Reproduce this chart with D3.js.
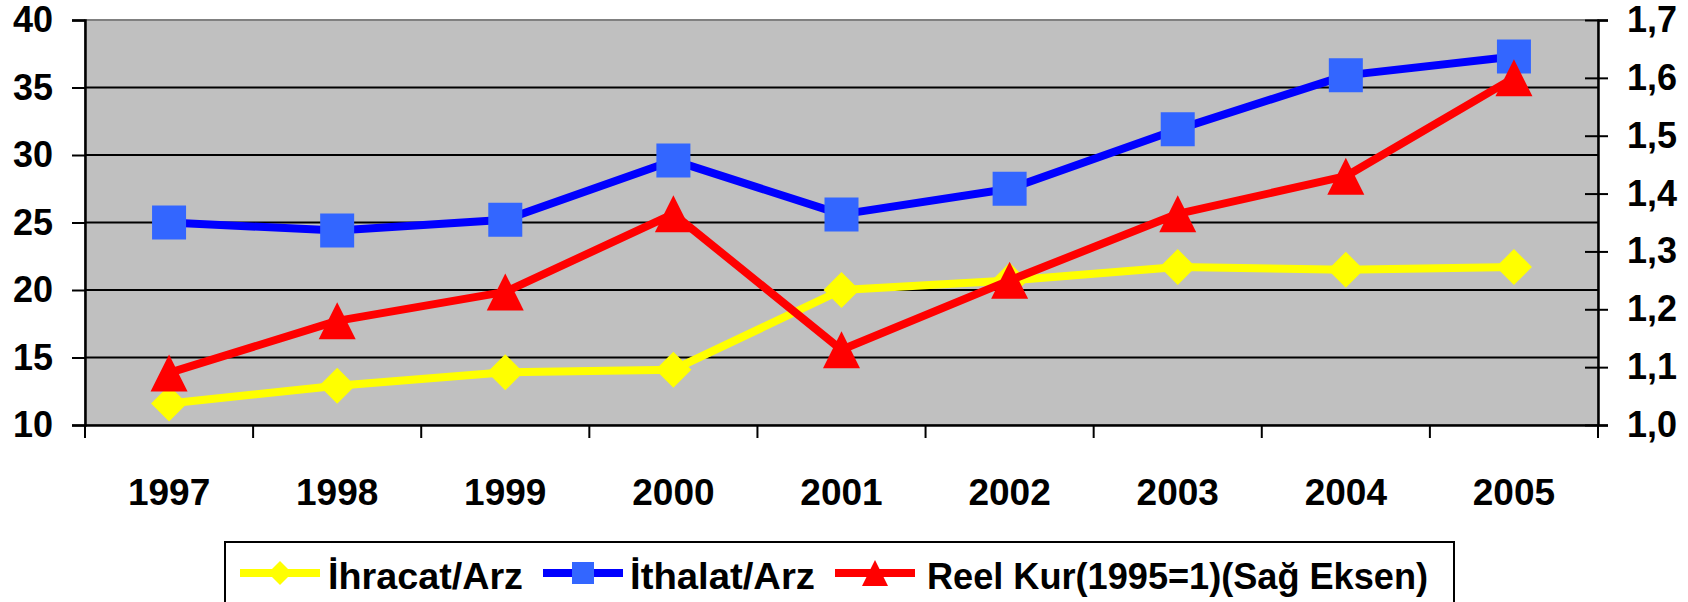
<!DOCTYPE html>
<html>
<head>
<meta charset="utf-8">
<script src="https://cdn.jsdelivr.net/npm/d3@7"></script>
<style>
  body { margin: 0; background: #fff; }
  svg { display: block; }
</style>
</head>
<body>
<div id="chart"></div>
<script>
/* Data */
var years = ["1997", "1998", "1999", "2000", "2001", "2002", "2003", "2004", "2005"];
var ihracatArz = [11.6, 12.9, 13.9, 14.1, 20.0, 20.7, 21.7, 21.5, 21.7];
var ithalatArz = [25.0, 24.4, 25.2, 29.6, 25.6, 27.5, 31.9, 35.9, 37.3];
var reelKur = [1.09, 1.18, 1.23, 1.365, 1.13, 1.25, 1.365, 1.43, 1.60];
var leftTicks = [10, 15, 20, 25, 30, 35, 40];
var rightTicks = [1.0, 1.1, 1.2, 1.3, 1.4, 1.5, 1.6, 1.7];
var seriesNames = ["İhracat/Arz", "İthalat/Arz", "Reel Kur(1995=1)(Sağ Eksen)"];

/* Overall SVG Container */
var width = 1688, height = 602;
var plot = { left: 85, right: 1598, top: 20, bottom: 425 };
var fontFamily = "'Liberation Sans', Arial, Helvetica, sans-serif";

var svg = d3.select("#chart")
    .append("svg")
    .attr("width", width)
    .attr("height", height);

/* Scales */
var x = d3.scaleBand()
    .domain(years)
    .range([plot.left, plot.right])
    .padding(0);

var yLeft = d3.scaleLinear()
    .domain([10, 40])
    .range([plot.bottom, plot.top]);

var yRight = d3.scaleLinear()
    .domain([1.0, 1.7])
    .range([plot.bottom, plot.top]);

var commaFormat = d3.formatLocale({ decimal: ",", thousands: ".", grouping: [3], currency: ["", ""] }).format(".1f");

/* Plot area background */
svg.append("rect")
    .attr("x", plot.left)
    .attr("y", plot.top)
    .attr("width", plot.right - plot.left)
    .attr("height", plot.bottom - plot.top)
    .attr("fill", "#c0c0c0")
    .attr("stroke", "#808080")
    .attr("stroke-width", 2);

/* Gridlines (left axis) */
svg.append("g")
    .selectAll("line")
    .data(leftTicks.filter(function(d) { return d > 10 && d < 40; }))
    .enter().append("line")
    .attr("x1", plot.left)
    .attr("x2", plot.right)
    .attr("y1", function(d) { return yLeft(d); })
    .attr("y2", function(d) { return yLeft(d); })
    .attr("stroke", "#000")
    .attr("stroke-width", 2);

/* Left axis */
var leftAxis = svg.append("g")
    .attr("transform", "translate(" + plot.left + ",0)")
    .call(d3.axisLeft(yLeft).tickValues(leftTicks).tickSize(13).tickPadding(19).tickFormat(d3.format("d")));
leftAxis.select(".domain").attr("stroke", "#000").attr("stroke-width", 2.5);
leftAxis.selectAll(".tick line").attr("stroke", "#000").attr("stroke-width", 2);
leftAxis.selectAll("text")
    .attr("font-family", fontFamily)
    .attr("font-size", 36)
    .attr("font-weight", "bold")
    .attr("fill", "#000");

/* Right axis (ticks cross the axis line) */
var rightAxis = svg.append("g")
    .attr("transform", "translate(" + plot.right + ",0)")
    .call(d3.axisRight(yRight).tickValues(rightTicks).tickSize(10).tickPadding(19).tickFormat(commaFormat));
rightAxis.select(".domain").attr("stroke", "#000").attr("stroke-width", 2.5);
rightAxis.selectAll(".tick line").attr("x1", -13).attr("stroke", "#000").attr("stroke-width", 2);
rightAxis.selectAll("text")
    .attr("font-family", fontFamily)
    .attr("font-size", 36)
    .attr("font-weight", "bold")
    .attr("fill", "#000");

/* Bottom axis: ticks between categories */
var bottomAxis = svg.append("g")
    .attr("transform", "translate(0," + plot.bottom + ")")
    .call(d3.axisBottom(x).tickSize(0).tickPadding(54));
bottomAxis.select(".domain").attr("stroke", "#000").attr("stroke-width", 2.5);
bottomAxis.selectAll("text")
    .attr("font-family", fontFamily)
    .attr("font-size", 37)
    .attr("font-weight", "bold")
    .attr("fill", "#000");

bottomAxis.append("g")
    .selectAll("line")
    .data(d3.range(years.length + 1))
    .enter().append("line")
    .attr("x1", function(i) { return plot.left + i * x.bandwidth(); })
    .attr("x2", function(i) { return plot.left + i * x.bandwidth(); })
    .attr("y1", 0)
    .attr("y2", 13)
    .attr("stroke", "#000")
    .attr("stroke-width", 2);

/* Series */
var series = [
    { name: seriesNames[0], values: ihracatArz, scale: yLeft, line: "#ffff00", fill: "#ffff00", shape: "diamond" },
    { name: seriesNames[1], values: ithalatArz, scale: yLeft, line: "#0000ff", fill: "#3366ff", shape: "square" },
    { name: seriesNames[2], values: reelKur, scale: yRight, line: "#ff0000", fill: "#ff0000", shape: "triangle" }
];

function markerPath(shape, s) {
    if (shape === "diamond") return "M0," + (-s / 2) + "L" + (s / 2) + ",0L0," + (s / 2) + "L" + (-s / 2) + ",0Z";
    if (shape === "square") return "M" + (-s / 2) + "," + (-s / 2) + "h" + s + "v" + s + "h" + (-s) + "Z";
    return "M0," + (-s / 2) + "L" + (s / 2) + "," + (s / 2) + "L" + (-s / 2) + "," + (s / 2) + "Z";
}

var markerSize = { diamond: 36, square: 34, triangle: 37 };

series.forEach(function(sr) {
    var line = d3.line()
        .x(function(d, i) { return x(years[i]) + x.bandwidth() / 2; })
        .y(function(d) { return sr.scale(d); });

    svg.append("path")
        .datum(sr.values)
        .attr("d", line)
        .attr("fill", "none")
        .attr("stroke", sr.line)
        .attr("stroke-width", 8)
        .attr("stroke-linejoin", "round");

    svg.append("g")
        .selectAll("path")
        .data(sr.values)
        .enter().append("path")
        .attr("transform", function(d, i) { return "translate(" + (x(years[i]) + x.bandwidth() / 2) + "," + sr.scale(d) + ")"; })
        .attr("d", markerPath(sr.shape, markerSize[sr.shape]))
        .attr("fill", sr.fill);
});

/* Legend */
var legend = svg.append("g");

legend.append("rect")
    .attr("x", 225)
    .attr("y", 542)
    .attr("width", 1454 - 225)
    .attr("height", 64)
    .attr("fill", "#fff")
    .attr("stroke", "#000")
    .attr("stroke-width", 2);

var legendItems = [
    { lineX: 240, textX: 328, textLen: 195 },
    { lineX: 543, textX: 630, textLen: 185 },
    { lineX: 835, textX: 927, textLen: 501 }
];
var legendMarker = { diamond: 24, square: 22, triangle: 26 };

series.forEach(function(sr, i) {
    var it = legendItems[i];
    legend.append("line")
        .attr("x1", it.lineX)
        .attr("x2", it.lineX + 80)
        .attr("y1", 573)
        .attr("y2", 573)
        .attr("stroke", sr.line)
        .attr("stroke-width", 8);
    legend.append("path")
        .attr("transform", "translate(" + (it.lineX + 40) + ",573)")
        .attr("d", markerPath(sr.shape, legendMarker[sr.shape]))
        .attr("fill", sr.fill);
    legend.append("text")
        .attr("x", it.textX)
        .attr("y", 589)
        .attr("font-family", fontFamily)
        .attr("font-size", 36)
        .attr("font-weight", "bold")
        .attr("textLength", it.textLen)
        .attr("lengthAdjust", "spacingAndGlyphs")
        .text(sr.name);
});
</script>
</body>
</html>
